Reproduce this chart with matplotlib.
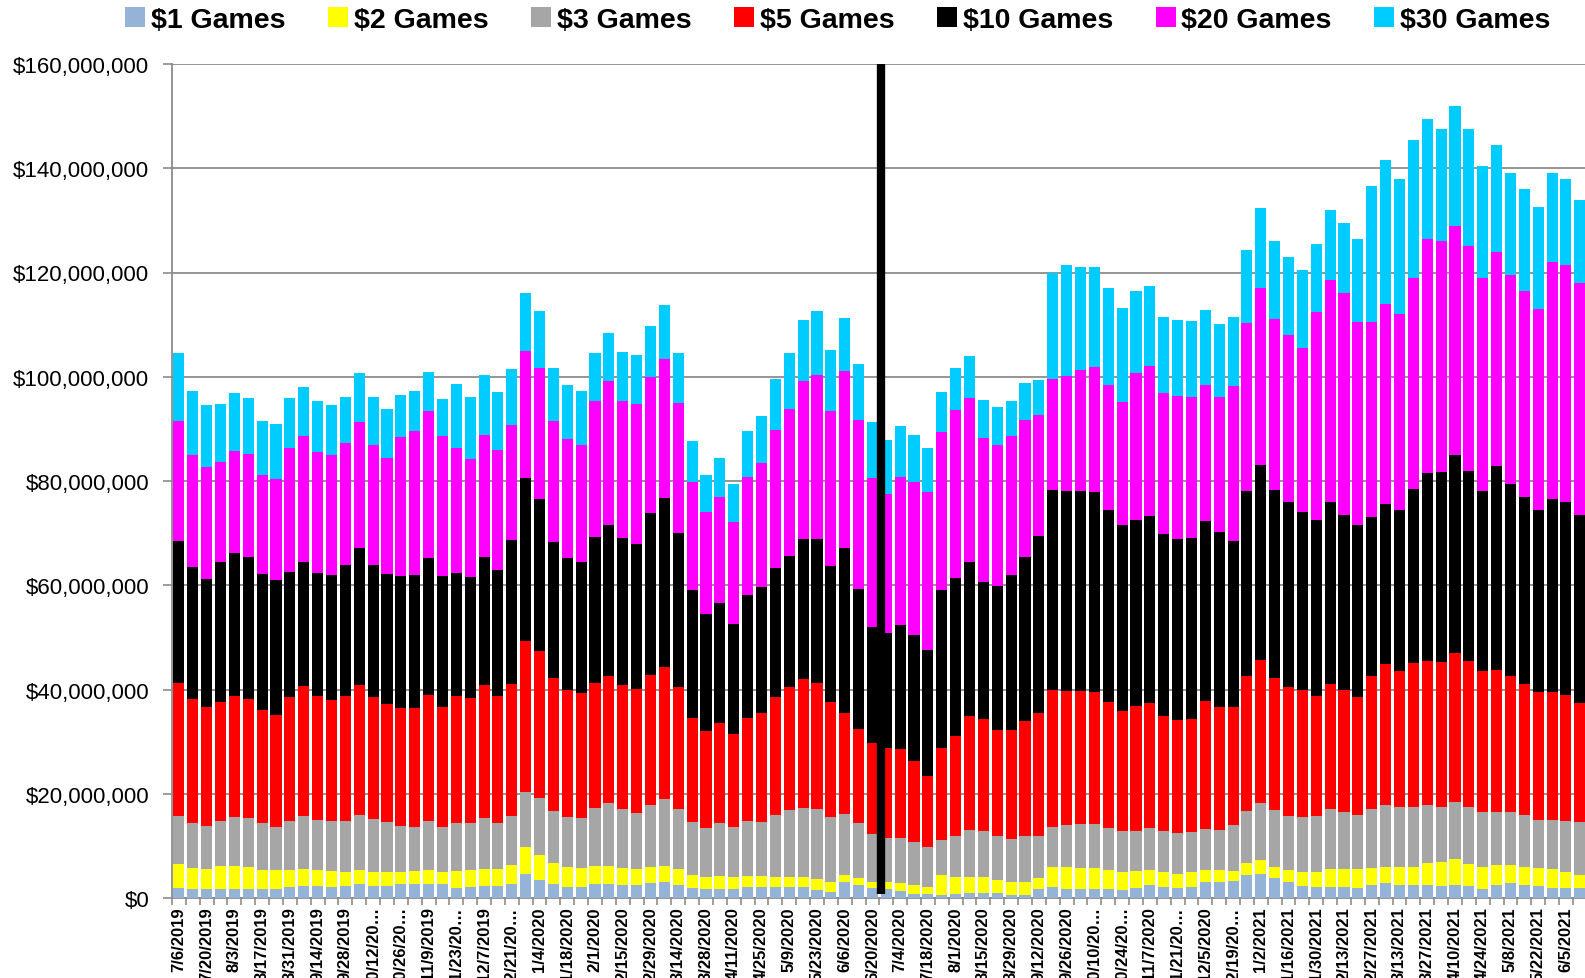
import matplotlib
matplotlib.use("Agg")
import matplotlib.pyplot as plt
import numpy as np
from matplotlib.patches import Patch
from matplotlib.ticker import FuncFormatter, FixedLocator

# Weekly sales by ticket price point, in millions of dollars (week ending 7/6/2019 onward)
games_1 = [2.0,1.8,1.8,1.8,1.8,1.8,1.8,1.8,2.2,2.3, 2.3,2.2,2.3,2.7,2.3,2.3,2.7,2.7,2.7,2.6,
           2.0,2.2,2.3,2.3,2.7,4.7,3.5,2.7,2.1,2.1, 2.7,2.7,2.5,2.4,2.8,3.1,2.5,2.0,1.8,1.8,
           1.8,2.1,2.1,2.2,2.2,2.1,1.6,1.2,3.0,2.4, 2.0,1.8,1.4,0.8,0.7,0.5,0.7,1.0,1.0,0.9,
           0.6,0.6,1.7,2.2,1.7,1.7,1.7,1.7,1.6,2.0, 2.4,2.2,2.0,2.2,3.1,3.1,3.2,4.4,4.7,3.9,
           3.0,2.3,2.2,2.2,2.2,2.0,2.5,2.8,2.5,2.5, 2.5,2.3,2.5,2.3,1.8,2.5,2.8,2.5,2.3,2.0,
           2.0,2.0]
games_2 = [4.6,4.0,3.7,4.3,4.3,4.2,3.6,3.5,3.2,3.3, 3.0,3.0,2.7,2.7,2.7,2.6,2.2,2.5,2.7,2.3,
           3.2,3.2,3.3,3.2,3.7,5.0,4.8,4.0,3.9,3.7, 3.4,3.4,3.2,3.1,3.2,3.0,3.0,2.5,2.2,2.4,
           2.2,2.2,2.1,1.9,1.9,2.0,2.0,1.8,1.5,1.4, 1.0,1.2,1.4,1.7,1.5,3.9,3.4,3.0,3.0,2.6,
           2.5,2.5,2.2,3.8,4.3,4.1,4.1,3.6,3.4,3.1, 3.0,2.8,2.7,2.7,2.3,2.3,1.9,2.3,2.6,2.1,
           2.3,2.7,2.8,3.3,3.3,3.5,3.3,3.2,3.5,3.5, 4.3,4.7,5.0,4.2,4.2,3.8,3.5,3.5,3.5,3.5,
           3.0,2.5]
games_3 = [9.2,8.6,8.3,8.6,9.4,9.4,8.9,8.4,9.4,10.1, 9.7,9.5,9.7,10.6,10.1,9.6,8.9,8.4,9.4,8.7,
           9.1,8.9,9.8,8.9,9.4,10.6,10.8,9.9,9.5,9.5, 11.1,12.1,11.4,10.9,11.9,12.8,11.6,10.1,9.5,10.2,
           9.7,10.4,10.4,11.9,12.7,13.2,13.5,12.6,11.6,10.5, 9.2,8.5,8.7,8.3,7.6,6.8,7.7,9.0,8.9,8.3,
           8.3,8.8,7.9,7.7,8.1,8.4,8.4,8.2,7.9,7.8, 8.0,7.8,7.7,7.8,7.9,7.7,8.9,10.0,10.9,10.9,
           10.5,10.5,10.8,11.5,11.0,10.5,11.2,11.8,11.5,11.5, 11.0,10.5,11.0,11.0,10.5,10.2,10.2,10.0,9.2,9.5,
           9.8,10.0]
games_5 = [25.4,23.7,22.9,22.9,23.2,22.8,21.8,21.5,23.8,25.0, 23.8,23.3,24.0,24.9,23.4,22.7,22.7,22.9,24.1,23.1,
           24.5,24.1,25.4,24.4,25.3,29.0,28.2,25.6,24.4,24.0, 24.1,24.4,23.8,23.7,24.8,25.4,23.4,19.9,18.5,19.2,
           17.8,19.9,20.9,22.5,23.7,24.7,24.1,22.0,19.3,18.2, 17.6,17.3,17.0,15.4,13.7,17.5,19.3,22.0,21.4,20.5,
           20.9,22.0,23.7,26.2,25.7,25.5,25.3,24.1,23.0,23.9, 24.0,22.2,21.8,21.7,24.5,23.6,22.7,25.9,27.4,25.4,
           24.7,24.5,23.0,24.0,23.5,22.5,25.5,27.0,26.0,27.5, 27.7,27.8,28.5,28.0,27.0,27.3,26.0,25.0,24.5,24.5,
           24.2,23.0]
games_10 = [27.2,25.4,24.5,26.8,27.5,27.3,26.1,25.8,23.9,23.7, 23.6,23.9,25.2,26.3,25.4,24.9,25.2,25.4,26.3,25.1,
            23.5,23.2,24.6,24.1,27.5,31.2,29.2,26.1,25.3,25.2, 27.9,28.9,28.2,27.9,31.2,32.4,29.5,24.6,22.5,23.0,
            21.1,23.5,24.2,24.8,25.2,26.8,27.6,26.0,31.8,26.8, 22.1,22.0,23.9,24.3,24.1,30.3,30.3,29.5,26.3,27.5,
            29.6,31.5,34.0,38.4,38.3,38.4,38.3,36.9,35.7,35.7, 35.9,34.8,34.7,34.7,34.5,33.5,31.7,35.5,37.5,36.0,
            35.5,34.0,33.7,35.0,33.5,33.0,30.5,30.7,31.0,33.5, 36.0,36.5,38.0,36.5,34.5,39.0,37.0,36.0,35.0,37.0,
            37.0,36.0]
games_20 = [23.2,21.5,21.5,19.3,19.6,19.6,19.0,19.3,23.9,24.2, 23.2,23.0,23.4,24.1,23.1,22.4,26.7,27.7,28.2,26.8,
            24.1,22.7,23.5,23.0,22.2,24.4,25.2,23.2,22.8,22.5, 26.1,27.6,26.2,26.7,26.0,26.8,25.0,20.7,19.5,20.3,
            19.5,22.7,23.8,26.4,28.2,30.3,31.5,29.8,33.9,32.4, 28.6,26.7,28.3,29.4,30.3,30.4,32.2,31.5,27.7,27.2,
            26.7,26.3,23.2,21.3,22.1,23.2,24.1,23.9,23.5,28.2, 28.8,27.0,27.4,27.0,26.2,26.0,29.9,32.2,34.0,32.8,
            32.0,31.5,40.0,42.5,42.5,39.0,37.5,38.5,37.5,40.5, 45.0,44.2,44.0,43.0,41.0,41.2,40.0,39.5,38.5,45.5,
            45.5,44.5]
games_30 = [12.9,12.3,11.9,11.0,11.0,10.8,10.4,10.7,9.6,9.5, 9.7,9.7,8.9,9.4,9.2,9.4,8.1,7.7,7.5,7.2,
            12.2,11.8,11.5,11.1,10.6,11.1,11.0,10.2,10.4,10.2, 9.2,9.3,9.4,9.5,9.9,10.3,9.5,7.8,7.2,7.5,
            7.3,8.7,9.0,9.9,10.6,11.8,12.3,11.8,10.2,10.8, 10.9,10.3,9.9,9.0,8.4,7.7,8.0,8.0,7.3,7.2,
            6.8,7.1,6.6,20.4,21.2,19.7,19.2,18.6,18.1,15.8, 15.3,14.6,14.6,14.5,14.4,13.9,13.2,14.1,15.3,15.0,
            15.0,15.0,13.0,13.5,13.5,16.0,26.0,27.5,26.0,26.5, 23.0,21.5,23.0,22.5,21.5,20.5,19.5,19.5,19.5,17.0,
            16.5,16.0]

series_names = ["$1 Games", "$2 Games", "$3 Games", "$5 Games", "$10 Games", "$20 Games", "$30 Games"]
series_colors = ["#95B3D7", "#FFFF00", "#A6A6A6", "#FF0000", "#000000", "#FF00FF", "#00CCFF"]

week_labels = ["7/6/2019", "7/20/2019", "8/3/2019", "8/17/2019", "8/31/2019", "9/14/2019",
               "9/28/2019", "10/12/20\u2026", "10/26/20\u2026", "11/9/2019", "11/23/20\u2026",
               "12/7/2019", "12/21/20\u2026", "1/4/2020", "1/18/2020", "2/1/2020", "2/15/2020",
               "2/29/2020", "3/14/2020", "3/28/2020", "4/11/2020", "4/25/2020", "5/9/2020",
               "5/23/2020", "6/6/2020", "6/20/2020", "7/4/2020", "7/18/2020", "8/1/2020",
               "8/15/2020", "8/29/2020", "9/12/2020", "9/26/2020", "10/10/20\u2026",
               "10/24/20\u2026", "11/7/2020", "11/21/20\u2026", "12/5/2020", "12/19/20\u2026",
               "1/2/2021", "1/16/2021", "1/30/2021", "2/13/2021", "2/27/2021", "3/13/2021",
               "3/27/2021", "4/10/2021", "4/24/2021", "5/8/2021", "5/22/2021", "6/5/2021"]

marker_week = 50.6  # vertical divider between the 6/20/2020 and 6/27/2020 weeks

all_series = [games_1, games_2, games_3, games_5, games_10, games_20, games_30]
n = len(games_1)
x = np.arange(n)

W, H = 1585, 979
fig = plt.figure(figsize=(W / 100, H / 100), dpi=100)
left_px, top_px, bottom_px = 172, 65, 899
px_per_bar = 13.87
xmax = 112
ax = fig.add_axes([left_px / W, (H - bottom_px) / H,
                   (xmax + 0.5) * px_per_bar / W, (bottom_px - top_px) / H])

bottom = np.zeros(n)
for vals, name, col in zip(all_series, series_names, series_colors):
    v = np.array(vals) * 1e6
    ax.bar(x, v, width=0.8, bottom=bottom, color=col, label=name, zorder=3, linewidth=0)
    bottom += v

ax.plot([marker_week, marker_week], [0.8e6, 160e6], color="black", lw=6,
        solid_capstyle="butt", zorder=6, clip_on=False)

ax.set_xlim(-0.5, xmax)
ax.set_ylim(0, 160e6)
ax.set_yticks(np.arange(0, 160e6 + 1, 20e6))
ax.yaxis.set_major_formatter(FuncFormatter(lambda v, p: "${:,.0f}".format(v)))
ax.grid(axis="y", color="#8C8C8C", lw=1.3, zorder=0)
ax.set_axisbelow(True)

ax.set_xticks(np.arange(0, 2 * len(week_labels), 2))
ax.set_xticklabels(week_labels, rotation=90, fontsize=12, fontweight="bold",
                   family="Liberation Sans", va="top", ha="center")
ax.tick_params(axis="x", length=0, pad=6)
ax.xaxis.set_minor_locator(FixedLocator(np.arange(-0.5, xmax, 1)))
ax.tick_params(axis="x", which="minor", length=5, color="#8C8C8C", width=1.2)
ax.tick_params(axis="y", length=6.5, color="#8C8C8C", width=1.2, labelsize=16, pad=10)
for lab in ax.get_yticklabels():
    lab.set_family("Liberation Sans")

for s in ["top", "right"]:
    ax.spines[s].set_visible(False)
for s in ["left", "bottom"]:
    ax.spines[s].set_color("#8C8C8C")
    ax.spines[s].set_linewidth(1.3)

handles = [Patch(facecolor=c, edgecolor="none") for c in series_colors]
fig.legend(handles, series_names, ncol=7, loc="center",
           bbox_to_anchor=(838 / W, 1 - 21 / H), frameon=False,
           prop={"family": "Liberation Sans", "weight": "bold", "size": 20.5},
           handlelength=0.7, handleheight=0.7, handletextpad=0.2, columnspacing=1.5)

fig.savefig("out.png", dpi=100)
